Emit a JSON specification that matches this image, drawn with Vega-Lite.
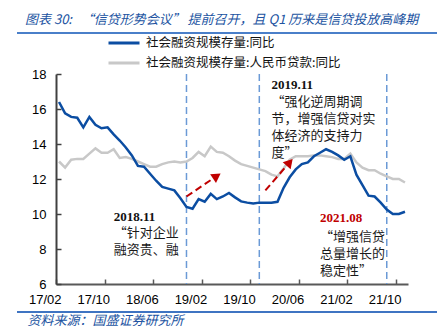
{
  "$schema": "https://vega.github.io/schema/vega-lite/v6.json",
  "width": 420,
  "height": 279,
  "autosize": {"type": "none"},
  "padding": {"left": 17, "top": 33, "right": 3, "bottom": 15},
  "background": "white",
  "config": {"view": {"stroke": null}},
  "title": {
    "text": "图表 30:\u00a0\u00a0 “信贷形势会议” 提前召开，且 Q1 历来是信贷投放高峰期",
    "anchor": "start",
    "frame": "group",
    "dx": 8,
    "offset": 5,
    "font": "Noto Sans CJK SC",
    "fontSize": 13,
    "fontStyle": "italic",
    "fontWeight": "normal",
    "color": "#2153a1"
  },
  "datasets": {
    "series": [
      {"month": "17/02", "total": 16.4, "loans": 13.0},
      {"month": "17/03", "total": 15.75, "loans": 12.65},
      {"month": "17/04", "total": 15.55, "loans": 13.1},
      {"month": "17/05", "total": 15.5, "loans": 13.15},
      {"month": "17/06", "total": 14.95, "loans": 13.15},
      {"month": "17/07", "total": 15.55, "loans": 13.45},
      {"month": "17/08", "total": 15.1, "loans": 13.75},
      {"month": "17/09", "total": 14.9, "loans": 13.5},
      {"month": "17/10", "total": 14.95, "loans": 13.5},
      {"month": "17/11", "total": 14.55, "loans": 13.7},
      {"month": "17/12", "total": 14.2, "loans": 13.2},
      {"month": "18/01", "total": 13.8, "loans": 13.25},
      {"month": "18/02", "total": 13.35, "loans": 13.15},
      {"month": "18/03", "total": 12.75, "loans": 13.0},
      {"month": "18/04", "total": 12.7, "loans": 12.85},
      {"month": "18/05", "total": 12.3, "loans": 12.7},
      {"month": "18/06", "total": 11.9, "loans": 12.7},
      {"month": "18/07", "total": 11.55, "loans": 12.85},
      {"month": "18/08", "total": 11.45, "loans": 12.95},
      {"month": "18/09", "total": 11.35, "loans": 13.0},
      {"month": "18/10", "total": 10.9, "loans": 12.95},
      {"month": "18/11", "total": 10.4, "loans": 13.0},
      {"month": "18/12", "total": 10.3, "loans": 13.2},
      {"month": "19/01", "total": 10.85, "loans": 13.55},
      {"month": "19/02", "total": 10.7, "loans": 13.3},
      {"month": "19/03", "total": 11.15, "loans": 13.85},
      {"month": "19/04", "total": 10.85, "loans": 13.55},
      {"month": "19/05", "total": 11.0, "loans": 13.5},
      {"month": "19/06", "total": 11.2, "loans": 13.3},
      {"month": "19/07", "total": 10.95, "loans": 13.05},
      {"month": "19/08", "total": 10.72, "loans": 12.85},
      {"month": "19/09", "total": 10.65, "loans": 12.75},
      {"month": "19/10", "total": 10.6, "loans": 12.65},
      {"month": "19/11", "total": 10.65, "loans": 12.55},
      {"month": "19/12", "total": 10.65, "loans": 12.45},
      {"month": "20/01", "total": 10.65, "loans": 12.25},
      {"month": "20/02", "total": 10.7, "loans": 12.15},
      {"month": "20/03", "total": 11.5, "loans": 12.6},
      {"month": "20/04", "total": 12.1, "loans": 13.1},
      {"month": "20/05", "total": 12.55, "loans": 13.3},
      {"month": "20/06", "total": 12.85, "loans": 13.3},
      {"month": "20/07", "total": 12.95, "loans": 13.3},
      {"month": "20/08", "total": 13.3, "loans": 13.35},
      {"month": "20/09", "total": 13.5, "loans": 13.35},
      {"month": "20/10", "total": 13.7, "loans": 13.3},
      {"month": "20/11", "total": 13.55, "loans": 13.25},
      {"month": "20/12", "total": 13.35, "loans": 13.15},
      {"month": "21/01", "total": 13.1, "loans": 13.15},
      {"month": "21/02", "total": 13.3, "loans": 13.45},
      {"month": "21/03", "total": 12.25, "loans": 12.95},
      {"month": "21/04", "total": 11.65, "loans": 12.65},
      {"month": "21/05", "total": 11.05, "loans": 12.5},
      {"month": "21/06", "total": 11.0, "loans": 12.5},
      {"month": "21/07", "total": 10.65, "loans": 12.3},
      {"month": "21/08", "total": 10.25, "loans": 12.15},
      {"month": "21/09", "total": 10.0, "loans": 12.0},
      {"month": "21/10", "total": 10.0, "loans": 12.0},
      {"month": "21/11", "total": 10.13, "loans": 11.8}
    ],
    "markers": [{"month": "18/11"}, {"month": "19/11"}, {"month": "21/08"}],
    "arrows": [
      {"arrow": 1, "month": "18/11", "value": 11.0},
      {"arrow": 1, "month": "19/04", "value": 12.17},
      {"arrow": 2, "month": "19/12", "value": 11.35},
      {"arrow": 2, "month": "20/04", "value": 12.95}
    ],
    "dates": [
      {"month": "17/11", "value": 9.85, "text": "2018.11", "current": false},
      {"month": "20/01", "value": 17.37, "text": "2019.11", "current": false},
      {"month": "20/09", "value": 9.75, "text": "2021.08", "current": true}
    ],
    "quotes": [
      {"month": "17/11", "value": 8.9, "text": " “针对企业\n融资贵、融"},
      {"month": "20/01", "value": 16.38, "text": "“强化逆周期调\n节，增强信贷对实\n体经济的支持力\n度”"},
      {"month": "20/09", "value": 8.7, "text": " “增强信贷\n总量增长的\n稳定性”"}
    ]
  },
  "layer": [
    {
      "data": {"values": [{}]},
      "mark": {"type": "rule", "color": "#4a7fc9", "strokeWidth": 2},
      "encoding": {"y": {"datum": 20.343, "type": "quantitative"}}
    },
    {
      "data": {"values": [{}]},
      "mark": {"type": "rule", "color": "#3f74c2", "strokeWidth": 2},
      "encoding": {"y": {"datum": 4.4, "type": "quantitative"}}
    },
    {
      "data": {"name": "markers"},
      "mark": {"type": "rule", "color": "#6b9ad6", "strokeWidth": 1.5, "strokeDash": [7, 4]},
      "encoding": {
        "x": {"field": "month", "type": "ordinal"},
        "y": {"datum": 18, "type": "quantitative"},
        "y2": {"datum": 6}
      }
    },
    {
      "data": {"name": "series"},
      "transform": [{"fold": ["loans", "total"], "as": ["series", "value"]}],
      "mark": {"type": "line", "strokeWidth": 2.5},
      "encoding": {
        "x": {
          "field": "month",
          "type": "ordinal",
          "scale": {"type": "point", "padding": 0.5, "range": [39, 391]},
          "axis": {
            "values": ["17/02", "17/10", "18/06", "19/02", "19/10", "20/06", "21/02", "21/10"],
            "labelAngle": 0,
            "labelFont": "Liberation Sans",
            "labelFontSize": 13,
            "labelColor": "#000000",
            "labelPadding": 20,
            "labelOffset": 5,
            "tickOffset": -3,
            "tickSize": -5,
            "tickColor": "#595959",
            "tickWidth": 1.5,
            "domainColor": "#595959",
            "domainWidth": 2,
            "offset": -28,
            "grid": false,
            "title": "资料来源：国盛证券研究所",
            "titleFont": "Noto Sans CJK SC",
            "titleFontSize": 13,
            "titleFontStyle": "italic",
            "titleFontWeight": "normal",
            "titleColor": "#2153a1",
            "titleAnchor": "start",
            "titleAlign": "left",
            "titleBaseline": "middle",
            "titleX": 10,
            "titleY": 36
          }
        },
        "y": {
          "field": "value",
          "type": "quantitative",
          "scale": {"domain": [6, 18], "range": [251, 41], "nice": false, "zero": false},
          "axis": {
            "values": [6, 8, 10, 12, 14, 16, 18],
            "labelFont": "Liberation Sans",
            "labelFontSize": 13,
            "labelColor": "#000000",
            "labelPadding": 15,
            "tickSize": -5,
            "tickColor": "#404040",
            "tickWidth": 1.5,
            "domainColor": "#404040",
            "domainWidth": 2,
            "offset": -39,
            "grid": false,
            "title": null
          }
        },
        "color": {
          "field": "series",
          "type": "nominal",
          "scale": {"domain": ["total", "loans"], "range": ["#0b4da2", "#c8c8c8"]},
          "legend": {
            "orient": "none",
            "legendX": 90,
            "legendY": 0,
            "direction": "vertical",
            "title": null,
            "padding": 0,
            "symbolType": "stroke",
            "symbolSize": 961,
            "symbolStrokeWidth": 3,
            "clipHeight": 20,
            "rowPadding": 0,
            "labelFont": "Noto Sans CJK SC",
            "labelFontSize": 12.5,
            "labelColor": "#111111",
            "labelOffset": 5,
            "labelLimit": 300,
            "labelExpr": "datum.label === 'total' ? '社会融资规模存量:同比' : '社会融资规模存量:人民币贷款:同比'"
          }
        }
      }
    },
    {
      "data": {"name": "arrows"},
      "mark": {"type": "line", "color": "#c00000", "strokeWidth": 2, "strokeDash": [7, 4]},
      "encoding": {
        "x": {"field": "month", "type": "ordinal"},
        "y": {"field": "value", "type": "quantitative"},
        "detail": {"field": "arrow", "type": "nominal"}
      }
    },
    {
      "data": {"name": "arrows"},
      "transform": [{"filter": "datum.arrow == 1 && datum.month == '19/04'"}],
      "mark": {"type": "point", "shape": "triangle-up", "filled": true, "color": "#c00000", "opacity": 1, "size": 110, "angle": 56},
      "encoding": {
        "x": {"field": "month", "type": "ordinal"},
        "y": {"field": "value", "type": "quantitative"}
      }
    },
    {
      "data": {"name": "arrows"},
      "transform": [{"filter": "datum.arrow == 2 && datum.month == '20/04'"}],
      "mark": {"type": "point", "shape": "triangle-up", "filled": true, "color": "#c00000", "opacity": 1, "size": 110, "angle": 41},
      "encoding": {
        "x": {"field": "month", "type": "ordinal"},
        "y": {"field": "value", "type": "quantitative"}
      }
    },
    {
      "data": {"name": "dates"},
      "mark": {"type": "text", "font": "Liberation Serif", "fontSize": 13, "fontWeight": "bold", "align": "left", "baseline": "middle"},
      "encoding": {
        "x": {"field": "month", "type": "ordinal"},
        "y": {"field": "value", "type": "quantitative"},
        "text": {"field": "text"},
        "color": {"condition": {"test": "datum.current", "value": "#c00000"}, "value": "#111111"}
      }
    },
    {
      "data": {"name": "quotes"},
      "mark": {"type": "text", "font": "Noto Sans CJK SC", "fontSize": 13, "lineHeight": 17, "lineBreak": "\n", "align": "left", "baseline": "middle", "color": "#1a1a1a"},
      "encoding": {
        "x": {"field": "month", "type": "ordinal"},
        "y": {"field": "value", "type": "quantitative"},
        "text": {"field": "text"}
      }
    }
  ]
}
